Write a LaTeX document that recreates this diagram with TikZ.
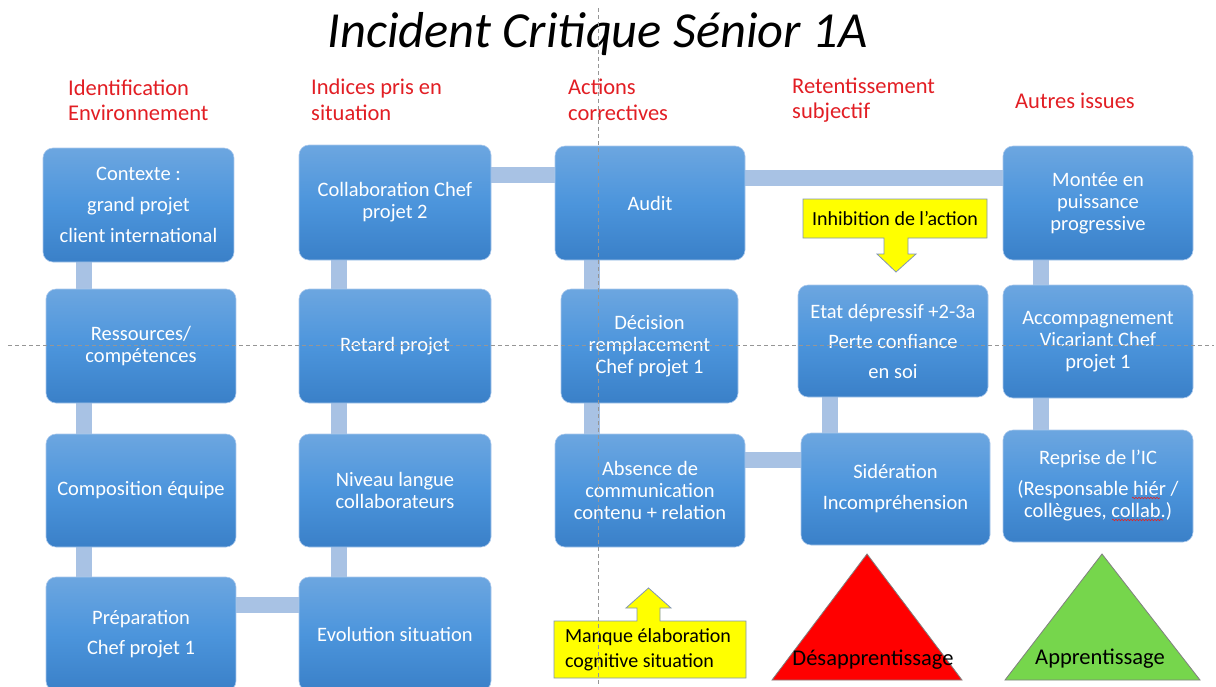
\documentclass[tikz,border=0pt]{standalone}
\usepackage{fontspec}
\setmainfont{Carlito}
\usetikzlibrary{backgrounds,decorations.pathmorphing}
\definecolor{boxtop}{RGB}{108,166,224}
\definecolor{boxmid}{RGB}{76,149,220}
\definecolor{boxbot}{RGB}{58,128,200}
\definecolor{boxedge}{RGB}{170,200,236}
\definecolor{linkcol}{RGB}{168,194,228}
\definecolor{hdrred}{RGB}{226,30,36}
\definecolor{calloutyellow}{RGB}{255,255,0}
\definecolor{calloutedge}{RGB}{130,150,180}
\definecolor{trired}{RGB}{255,0,0}
\definecolor{trigreen}{RGB}{118,214,76}
\definecolor{guidegray}{RGB}{150,150,150}
\definecolor{spellred}{RGB}{220,40,40}
\begin{document}
\begin{tikzpicture}[x=1pt,y=-1pt,
  card/.style={rounded corners=10pt, top color=boxtop, bottom color=boxbot, middle color=boxmid,
    draw=boxedge, line width=0.6pt, text=white, align=center, inner sep=0pt,
    font=\fontsize{20.5}{22}\selectfont},
  link/.style={draw=linkcol, line width=16pt},
  header/.style={anchor=west, align=left, text=hdrred, inner sep=0pt,
    font=\fontsize{22.5}{25.5}\selectfont},
  callout/.style={fill=calloutyellow, draw=calloutedge, line width=0.8pt},
  callouttext/.style={align=left, inner sep=0pt, text=black, font=\fontsize{20}{25}\selectfont},
  tri/.style={draw=gray, line width=0.8pt},
  tritext/.style={inner sep=0pt, text=black, font=\fontsize{22.5}{26}\selectfont},
  guide/.style={draw=guidegray, dash pattern=on 4pt off 3pt, line width=0.8pt},
  spell/.style={draw=spellred, line width=0.6pt, decorate, decoration={snake, amplitude=0.8pt, segment length=3pt}}]
\useasboundingbox (0,0) rectangle (1216,686);

% title
\node[font=\fontsize{50.5}{56}\selectfont\itshape, inner sep=0pt] (title) at (597.5,34) {Incident Critique Sénior 1A};

% headers
\node[header] (h1) at (68,100.5) {Identification\\Environnement};
\node[header] (h2) at (311,100) {Indices pris en\\situation};
\node[header] (h3) at (568,100) {Actions\\correctives};
\node[header] (h4) at (792,100) {Retentissement\\subjectif};
\node[header] (h5) at (1015,101) {Autres issues};

% column 1
\node[card, minimum width=191pt, minimum height=114pt] (c1) at (138.5,205) {Contexte :\\[9pt]grand projet\\[9pt]client international};
\node[card, minimum width=190pt, minimum height=114pt] (c2) at (141,346) {Ressources/\\compétences};
\node[card, minimum width=190pt, minimum height=113pt] (c3) at (141,490.5) {Composition équipe};
\node[card, minimum width=190pt, minimum height=114pt] (c4) at (141,634) {Préparation\\[8pt]Chef projet 1};

% column 2
\node[card, minimum width=192pt, minimum height=115pt] (d1) at (395,202.5) {Collaboration Chef\\projet 2};
\node[card, minimum width=192pt, minimum height=114pt] (d2) at (395,346) {Retard projet};
\node[card, minimum width=192pt, minimum height=113pt] (d3) at (395,490.5) {Niveau langue\\collaborateurs};
\node[card, minimum width=192pt, minimum height=114pt] (d4) at (395,634) {Evolution situation};

% column 3
\node[card, minimum width=190pt, minimum height=114pt] (a1) at (650,203) {Audit};
\node[card, minimum width=177pt, minimum height=114pt] (a2) at (649.5,346) {Décision\\remplacement\\Chef projet 1};
\node[card, minimum width=190pt, minimum height=113pt] (a3) at (650,490.5) {Absence de\\communication\\contenu + relation};

% column 4
\node[card, minimum width=190pt, minimum height=112pt] (r1) at (893,341) {Etat dépressif +2-3a\\[8pt]Perte confiance\\[8pt]en soi};
\node[card, minimum width=189pt, minimum height=112pt] (r2) at (895.5,489) {Sidération\\[9pt]Incompréhension};

% column 5
\node[card, minimum width=190pt, minimum height=114pt] (o1) at (1098,203) {Montée en\\puissance\\progressive};
\node[card, minimum width=190pt, minimum height=113pt] (o2) at (1098,341.5) {Accompagnement\\Vicariant Chef\\projet 1};
\node[card, minimum width=190pt, minimum height=112pt] (o3) at (1098,486) {Reprise de l’IC\\[9pt](Responsable hiér /\\collègues, collab.)};
\draw[spell] (1132,498) -- (1160,498);
\draw[spell] (1112,520) -- (1163,520);

% callouts
\path[callout] (803,199) -- (987,199) -- (987,238) -- (908,238) -- (908,254) -- (916,254)
  -- (896,272) -- (877,254) -- (884,254) -- (884,238) -- (803,238) -- cycle;
\node[callouttext] (inhib) at (895,218.5) {Inhibition de l’action};
\path[callout] (554,678) -- (746,678) -- (746,621) -- (660,621) -- (660,608) -- (671,608)
  -- (648.5,588) -- (626,608) -- (637,608) -- (637,621) -- (554,621) -- cycle;
\node[callouttext] (manque) at (648,649.5) {Manque élaboration\\cognitive situation};

% triangles
\path[tri, fill=trired] (867,554) -- (962,680) -- (772,680) -- cycle;
\node[tritext] (des) at (873,660) {Désapprentissage};
\path[tri, fill=trigreen] (1102,554) -- (1200,680) -- (1005,680) -- cycle;
\node[tritext] (app) at (1100,659) {Apprentissage};

% connectors behind the boxes
\begin{pgfonlayer}{background}
\fill[white] (0,0) rectangle (1216,686);
\draw[link] ([xshift=-55pt]c1.south) -- ([xshift=-57.5pt]c2.north);
\draw[link] ([xshift=-57.5pt]c2.south) -- ([xshift=-57.5pt]c3.north);
\draw[link] ([xshift=-57.5pt]c3.south) -- ([xshift=-57.5pt]c4.north);
\draw[link] ([yshift=29pt]c4.east) -- ([yshift=29pt]d4.west);
\draw[link] ([xshift=-56.5pt]d1.south) -- ([xshift=-56.5pt]d2.north);
\draw[link] ([xshift=-56.5pt]d2.south) -- ([xshift=-56.5pt]d3.north);
\draw[link] ([xshift=-56.5pt]d3.south) -- ([xshift=-56.5pt]d4.north);
\draw[link] ([yshift=28pt]d1.east) -- ([yshift=28.5pt]a1.west);
\draw[link] ([xshift=-58pt]a1.south) -- ([xshift=-57.5pt]a2.north);
\draw[link] ([xshift=-57.5pt]a2.south) -- ([xshift=-58pt]a3.north);
\draw[link] ([yshift=25pt]a1.east) -- ([yshift=25pt]o1.west);
\draw[link] ([yshift=31pt]a3.east) -- ([yshift=29.5pt]r2.west);
\draw[link] ([xshift=-63pt]r1.south) -- ([xshift=-65.5pt]r2.north);
\draw[link] ([xshift=-57.5pt]o1.south) -- ([xshift=-57.5pt]o2.north);
\draw[link] ([xshift=-57.5pt]o2.south) -- ([xshift=-57.5pt]o3.north);
\end{pgfonlayer}

% guide lines on top
\draw[guide] (598,8) -- (598,686);
\draw[guide] (8,345) -- (1214,345);
\end{tikzpicture}
\end{document}
